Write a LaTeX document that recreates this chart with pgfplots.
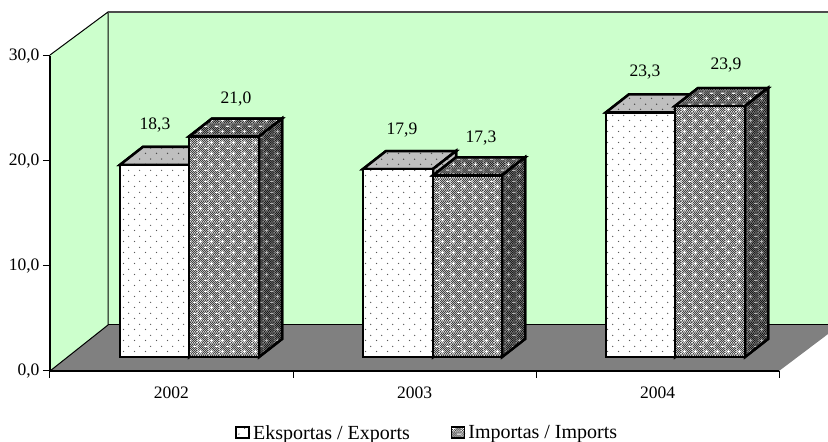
\documentclass[border=0pt]{standalone}
\usepackage{fontspec}
\setmainfont{Liberation Serif}
\usepackage{pgfplots}
\pgfplotsset{compat=1.18}
\usetikzlibrary{patterns}

\newcommand{\lab}{\fontsize{17.5}{20}\selectfont}
\newcommand{\leg}{\fontsize{20}{22}\selectfont}
\definecolor{wallgreen}{HTML}{CCFFCC}
\definecolor{floorgray}{HTML}{808080}

% white cards with sparse dots
\pgfdeclarepatterninherentlycolored{dotsfront}{\pgfpointorigin}{\pgfqpoint{11pt}{11pt}}{\pgfqpoint{11pt}{11pt}}{
  \pgfsetfillcolor{white}\pgfpathrectangle{\pgfpointorigin}{\pgfqpoint{11pt}{11pt}}\pgfusepath{fill}
  \pgfsetfillcolor{black!65}
  \pgfpathcircle{\pgfqpoint{2.75pt}{2.75pt}}{0.75pt}\pgfpathcircle{\pgfqpoint{8.25pt}{8.25pt}}{0.75pt}\pgfusepath{fill}}
\pgfdeclarepatterninherentlycolored{dotstop}{\pgfpointorigin}{\pgfqpoint{11pt}{11pt}}{\pgfqpoint{11pt}{11pt}}{
  \pgfsetfillcolor{black!25}\pgfpathrectangle{\pgfpointorigin}{\pgfqpoint{11pt}{11pt}}\pgfusepath{fill}
  \pgfsetfillcolor{black!70}
  \pgfpathcircle{\pgfqpoint{2.75pt}{2.75pt}}{0.8pt}\pgfpathcircle{\pgfqpoint{8.25pt}{8.25pt}}{0.8pt}\pgfusepath{fill}}

% mesh with white plus and dash marks
\newcommand{\meshcell}[2]{\pgfpathrectangle{\pgfqpoint{#1pt}{#2pt}}{\pgfqpoint{1.1pt}{1.1pt}}}
\newcommand{\meshrow}[1]{\meshcell{0}{#1}\meshcell{2.2}{#1}\meshcell{4.4}{#1}\meshcell{6.6}{#1}\meshcell{8.8}{#1}}
\newcommand{\meshrowb}[1]{\meshcell{1.1}{#1}\meshcell{3.3}{#1}\meshcell{5.5}{#1}\meshcell{7.7}{#1}\meshcell{9.9}{#1}}
\newcommand{\defmesh}[4]{%
\pgfdeclarepatterninherentlycolored{#1}{\pgfpointorigin}{\pgfqpoint{11pt}{11pt}}{\pgfqpoint{11pt}{11pt}}{%
  \pgfsetfillcolor{#2}\pgfpathrectangle{\pgfpointorigin}{\pgfqpoint{11pt}{11pt}}\pgfusepath{fill}%
  \pgfsetfillcolor{#3}%
  \meshrow{0}\meshrowb{1.1}\meshrow{2.2}\meshrowb{3.3}\meshrow{4.4}\meshrowb{5.5}\meshrow{6.6}\meshrowb{7.7}\meshrow{8.8}\meshrowb{9.9}%
  \pgfusepath{fill}%
  \pgfsetfillcolor{#4}%
  \pgfpathrectangle{\pgfqpoint{0.75pt}{2.15pt}}{\pgfqpoint{4pt}{1.2pt}}%
  \pgfpathrectangle{\pgfqpoint{2.15pt}{0.75pt}}{\pgfqpoint{1.2pt}{4pt}}%
  \pgfpathrectangle{\pgfqpoint{6.25pt}{7.65pt}}{\pgfqpoint{4pt}{1.2pt}}%
  \pgfusepath{fill}}}
\defmesh{meshfront}{black!5}{black!75}{white}
\defmesh{meshtop}{black!30}{black!85}{black!5}
\defmesh{meshside}{black!45}{black!90}{black!30}
\colorlet{meshfrontbase}{black!45}
\colorlet{meshtopbase}{black!58}
\colorlet{meshsidebase}{black!68}
\colorlet{dotsfrontbase}{white}
\colorlet{dotstopbase}{black!25}

% a filled face: the plain base under the pattern hides the seams of its tiles
\pgfplotsset{face/.style={draw=black,line width=2.5pt,line join=miter,preaction={fill=#1base},pattern=#1}}

% one 3D bar: left x, right x, value, patterns for front, top and side
\newcommand{\threedbar}[6]{%
  \pgfmathsetmacro{\xl}{#1+23}\pgfmathsetmacro{\xr}{#2+23}\pgfmathsetmacro{\vt}{#3+1.714}%
  \addplot[face=#5] coordinates {(#1,#3) (\xl,\vt) (\xr,\vt) (#2,#3)} --cycle;
  \addplot[face=#6] coordinates {(#2,0) (\xr,1.714) (\xr,\vt) (#2,#3)} --cycle;
  \addplot[face=#4] coordinates {(#1,0) (#2,0) (#2,#3) (#1,#3)} --cycle;
}

\begin{document}
\begin{tikzpicture}
\path[use as bounding box] (0,0) rectangle (828pt,442pt);
% x in picture pixels, y in data units with the bars' foot at 0
\begin{axis}[
    at={(0,0)},anchor=south west,
    scale only axis,width=828pt,height=442pt,
    xmin=0,xmax=828,ymin=-8.095,ymax=34,
    hide axis,
    legend image code/.code={\draw[#1] (0pt,-5pt) rectangle (13pt,6pt);\path[draw=none,fill=none,preaction={},pattern=none] (14pt,0pt) circle (0pt);},
    legend style={at={(axis cs:235,-7.24)},anchor=west,draw=none,fill=none,font=\leg,
      legend columns=2,inner sep=0pt,
      /tikz/every even column/.append style={column sep=39pt}},
  ]
  \addlegendimage{draw=black,line width=2pt,preaction={fill=white},pattern=dotsfront}
  \addlegendentry{Eksportas / Exports}
  \addlegendimage{draw=black,line width=1.5pt,preaction={fill=meshfrontbase},pattern=meshfront}
  \addlegendentry{Importas / Imports}

  % walls and floor
  \addplot[fill=wallgreen,draw=none] coordinates {(50,-1.333) (50,28.76) (108,32.857) (108,3.048)} --cycle;
  \addplot[fill=wallgreen,draw=none] coordinates {(108,3.048) (108,32.857) (840,32.857) (840,3.048)} --cycle;
  \addplot[fill=floorgray,draw=none] coordinates {(50,-1.333) (108,3.048) (840,3.048) (779,-1.333)} --cycle;
  \addplot[black,line width=1pt] coordinates {(50,28.76) (108,32.857) (108,3.048) (50,-1.333)};
  \addplot[black!70,line width=1.2pt] coordinates {(108,32.857) (830,32.857)};
  \addplot[black,line width=1pt] coordinates {(108,3.048) (830,3.048)};

  \threedbar{120}{189}{18.3}{dotsfront}{dotstop}{dotstop}
  \threedbar{189}{259}{21.0}{meshfront}{meshtop}{meshside}
  \threedbar{363}{433}{17.9}{dotsfront}{dotstop}{dotstop}
  \threedbar{433}{502}{17.3}{meshfront}{meshtop}{meshside}
  \threedbar{606}{675}{23.3}{dotsfront}{dotstop}{dotstop}
  \threedbar{675}{745}{23.9}{meshfront}{meshtop}{meshside}

  \node[font=\lab] at (axis cs:155,22.13) {18,3};
  \node[font=\lab] at (axis cs:236,24.61) {21,0};
  \node[font=\lab] at (axis cs:402,21.65) {17,9};
  \node[font=\lab] at (axis cs:481,20.89) {17,3};
  \node[font=\lab] at (axis cs:645,27.18) {23,3};
  \node[font=\lab] at (axis cs:726,27.85) {23,9};
\end{axis}
% the value and category axes on the front edge of the floor
\begin{axis}[
    at={(50pt,71pt)},anchor=south west,
    scale only axis,width=729pt,height=315pt,
    xmin=-0.5,xmax=2.5,ymin=0,ymax=30,
    axis x line=bottom,axis y line=left,
    axis line style={-,black,line width=1.3pt},
    tick align=outside,major tick length=7pt,
    tick style={black,line width=1pt},
    xtick={-0.5,0.5,1.5,2.5},xticklabels={},
    extra x ticks={0,1,2},extra x tick labels={2002,2003,2004},
    extra x tick style={major tick length=0pt,xticklabel style={yshift=-12pt}},
    ytick={0,10,20,30},
    tick label style={font=\lab},
    yticklabel style={/pgf/number format/.cd,fixed,fixed zerofill,precision=1,use comma,assume math mode=true},
  ]
  \addplot[draw=none] coordinates {(0,0) (2,30)};
\end{axis}
\end{tikzpicture}
\end{document}
